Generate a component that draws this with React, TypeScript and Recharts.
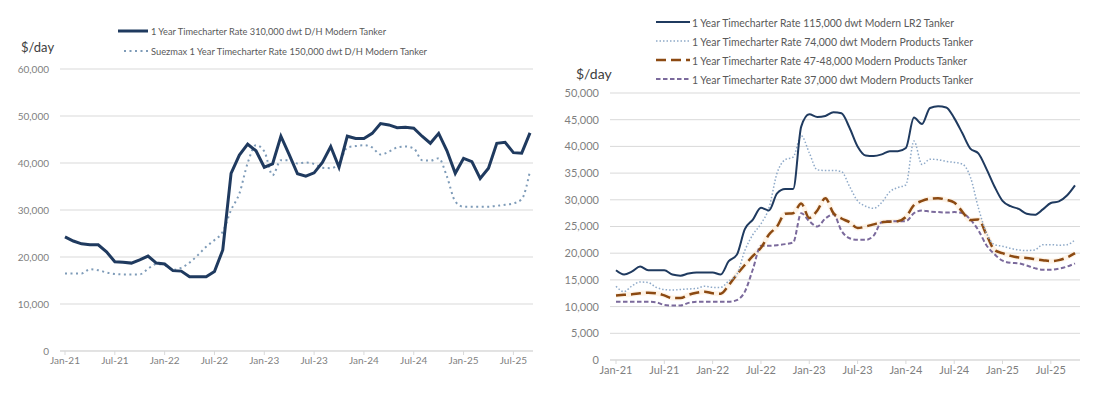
import { LineChart, Line, XAxis, YAxis, CartesianGrid } from 'recharts';

const FONT = 'Lato, "Liberation Sans", sans-serif';
const MONTHS = ['Jan', 'Feb', 'Mar', 'Apr', 'May', 'Jun', 'Jul', 'Aug', 'Sep', 'Oct', 'Nov', 'Dec'];
const monthLabels = (n: number) =>
  Array.from({ length: n }, (_, i) => `${MONTHS[i % 12]}-${21 + Math.floor(i / 12)}`);

// categories
const leftMonths = monthLabels(57); // Jan-21 .. Sep-25
const rightMonths = monthLabels(58); // Jan-21 .. Oct-25
const xTicks = ['Jan-21', 'Jul-21', 'Jan-22', 'Jul-22', 'Jan-23', 'Jul-23', 'Jan-24', 'Jul-24', 'Jan-25', 'Jul-25'];
const leftYTicks = [0, 10000, 20000, 30000, 40000, 50000, 60000];
const rightYTicks = [0, 5000, 10000, 15000, 20000, 25000, 30000, 35000, 40000, 45000, 50000];

// left chart series ($/day)
const vlcc310 = [
  24300, 23400, 22800, 22600, 22600, 21100, 19000, 18900, 18700, 19400,
  20200, 18700, 18500, 17100, 17000, 15800, 15800, 15800, 16900, 21500,
  37800, 41700, 44000, 42600, 39100, 39800, 45700, 41800, 37700, 37200,
  37900, 40100, 43500, 39100, 45700, 45200, 45200, 46300, 48400, 48100,
  47500, 47600, 47400, 45700, 44200, 46300, 42600, 37800, 41000, 40300,
  36700, 38900, 44200, 44400, 42200, 42100, 46400,
];
const suezmax150 = [
  16500, 16500, 16500, 17400, 17200, 16700, 16400, 16300, 16300, 16300,
  17500, 18500, 18300, 17300, 17700, 18800, 20400, 22200, 23600, 25400,
  30000, 33500, 40000, 43800, 42500, 37400, 40600, 40600, 39900, 40100,
  39800, 39000, 38900, 39900, 43300, 43600, 43800, 43300, 41800, 42400,
  43300, 43500, 43100, 40600, 40500, 41000, 37100, 31800, 30700, 30700,
  30700, 30700, 30900, 31100, 31400, 32300, 38300,
];

// right chart series ($/day)
const lr2_115 = [
  16800, 16000, 16600, 17500, 16800, 16800, 16800, 16000, 15800, 16200,
  16400, 16400, 16400, 16000, 18500, 19700, 24500, 26300, 28500, 28000,
  31200, 32000, 32000, 43700, 46000, 45500, 45700, 46400, 46200, 43500,
  40000, 38300, 38200, 38500, 39100, 39100, 39700, 45400, 44200, 47200,
  47500, 47300, 45300, 42500, 39600, 38700, 35800, 32500, 29800, 28800,
  28300, 27400, 27200, 28200, 29400, 29700, 30800, 32700,
];
const products74 = [
  13800, 12800, 13900, 14600, 14500, 13600, 13200, 13100, 13200, 13300,
  13400, 13800, 13600, 13600, 14800, 16000, 20500, 23500, 25500, 28500,
  35000, 37500, 38000, 42000, 38800, 35600, 35500, 35500, 35300, 32500,
  29800, 28800, 28400, 29500, 31500, 32300, 32800, 41000, 36600, 37600,
  37500, 37200, 37000, 36700, 34300, 28500, 23800, 21600, 21300, 20900,
  20600, 20500, 20600, 21600, 21600, 21500, 21600, 22500,
];
const products47 = [
  12100, 12200, 12300, 12500, 12600, 12500, 12100, 11600, 11600, 12200,
  12600, 12800, 12500, 12400, 14000, 16000, 17800, 19500, 21000, 23500,
  25000, 27400, 27500, 29300, 26600, 28000, 30300, 27500, 26500, 25800,
  24700, 25000, 25400, 25800, 25900, 26000, 26800, 29000, 29800, 30200,
  30300, 30000, 29500, 27800, 26200, 26300, 23500, 20600, 20000, 19500,
  19200, 19100, 18900, 18700, 18500, 18700, 19200, 20000,
];
const products37 = [
  10900, 10900, 10900, 10900, 10900, 10800, 10300, 10200, 10200, 10700,
  10900, 10900, 10900, 10900, 10900, 11200, 12800, 17000, 21400, 21400,
  21500, 21700, 22000, 27500, 26000, 25000, 26500, 27300, 24200, 22800,
  22500, 22500, 23300, 25800, 26000, 26000, 26000, 27500, 28000, 27800,
  27700, 27600, 27700, 27500, 26300, 24300, 21500, 19800, 18600, 18200,
  18100, 17700, 17200, 16900, 16900, 17100, 17500, 18100,
];

const leftLabels = [
  '1 Year Timecharter Rate 310,000 dwt D/H Modern Tanker',
  'Suezmax 1 Year Timecharter Rate 150,000 dwt D/H Modern Tanker',
];
const rightLabels = [
  '1 Year Timecharter Rate 115,000 dwt Modern LR2 Tanker',
  '1 Year Timecharter Rate 74,000 dwt Modern Products Tanker',
  '1 Year Timecharter Rate 47-48,000 Modern Products Tanker',
  '1 Year Timecharter Rate 37,000 dwt Modern Products Tanker',
];

const leftData = leftMonths.map((m, i) => ({ month: m, vlcc: vlcc310[i], suezmax: suezmax150[i] }));
const rightData = rightMonths.map((m, i) => ({
  month: m,
  lr2: lr2_115[i],
  p74: products74[i],
  p47: products47[i],
  p37: products37[i],
}));

const NAVY = '#1F3A5F';
const GRID = '#D9D9D9';
const fmt = (v: number) => v.toLocaleString('en-US');

const LegendLine = ({ y, x1, x2, color, width, dash, text, tx, len, fs }: any) => (
  <g>
    <line x1={x1} x2={x2} y1={y} y2={y} stroke={color} strokeWidth={width} strokeDasharray={dash} />
    <text
      x={tx}
      y={y}
      dominantBaseline="central"
      fontSize={fs}
      fill="#595959"
      fontFamily={FONT}
      textLength={len}
      lengthAdjust="spacingAndGlyphs"
    >
      {text}
    </text>
  </g>
);

const LeftChart = () => (
  <div style={{ position: 'absolute', left: 0, top: 0, width: 550, height: 394 }}>
    <LineChart width={550} height={394} data={leftData} margin={{ top: 69, right: 17, bottom: 18, left: 8 }}>
      <CartesianGrid vertical={false} stroke={GRID} />
      <XAxis
        dataKey="month"
        ticks={xTicks}
        interval={0}
        height={25}
        padding={{ left: 5, right: 3 }}
        axisLine={{ stroke: GRID }}
        tickLine={{ stroke: GRID }}
        tickSize={4}
        tick={{ fontSize: 10, fill: '#7F7F7F', fontFamily: FONT }}
      />
      <YAxis
        domain={[0, 60000]}
        ticks={leftYTicks}
        width={52}
        axisLine={false}
        tickLine={false}
        tickMargin={5}
        tickFormatter={fmt}
        tick={{ fontSize: 10, fill: '#7F7F7F', fontFamily: FONT }}
      />
      <Line dataKey="suezmax" type="monotone" stroke="#7E9BB8" strokeWidth={2} strokeDasharray="2 3.5" dot={false} isAnimationActive={false} />
      <Line dataKey="vlcc" type="linear" stroke={NAVY} strokeWidth={3} dot={false} isAnimationActive={false} />
    </LineChart>
    <svg width={550} height={394} style={{ position: 'absolute', left: 0, top: 0, pointerEvents: 'none' }}>
      <text x={21} y={47} dominantBaseline="central" fontSize={13} fill="#404040" fontFamily={FONT}>$/day</text>
      <LegendLine y={31} x1={118} x2={148} color={NAVY} width={3} text={leftLabels[0]} tx={151} len={235} fs={10} />
      <LegendLine y={51} x1={124} x2={148} color="#7E9BB8" width={2} dash="2 3.5" text={leftLabels[1]} tx={151} len={276} fs={10} />
    </svg>
  </div>
);

const RightChart = () => (
  <div style={{ position: 'absolute', left: 550, top: 0, width: 550, height: 394 }}>
    <LineChart width={550} height={394} data={rightData} margin={{ top: 93, right: 20, bottom: 12, left: 8 }}>
      <CartesianGrid vertical={false} stroke={GRID} />
      <XAxis
        dataKey="month"
        ticks={xTicks}
        interval={0}
        height={22}
        padding={{ left: 6, right: 5 }}
        axisLine={{ stroke: GRID }}
        tickLine={{ stroke: GRID }}
        tickSize={4}
        tick={{ fontSize: 11, fill: '#7F7F7F', fontFamily: FONT }}
      />
      <YAxis
        domain={[0, 50000]}
        ticks={rightYTicks}
        width={52}
        axisLine={false}
        tickLine={false}
        tickMargin={5}
        tickFormatter={fmt}
        tick={{ fontSize: 11, fill: '#7F7F7F', fontFamily: FONT }}
      />
      <Line dataKey="p47" type="monotone" stroke="#FCE6CC" strokeOpacity={0.45} strokeWidth={5} dot={false} isAnimationActive={false} />
      <Line dataKey="p37" type="monotone" stroke="#7B6A9C" strokeWidth={2} strokeDasharray="4.5 2.5" dot={false} isAnimationActive={false} />
      <Line dataKey="p47" type="monotone" stroke="#8C4A12" strokeWidth={2.5} strokeDasharray="10 5" dot={false} isAnimationActive={false} />
      <Line dataKey="p74" type="monotone" stroke="#8EA9C8" strokeWidth={1.5} strokeDasharray="1.5 2" dot={false} isAnimationActive={false} />
      <Line dataKey="lr2" type="monotone" stroke={NAVY} strokeWidth={2} dot={false} isAnimationActive={false} />
    </LineChart>
    <svg width={550} height={394} style={{ position: 'absolute', left: 0, top: 0, pointerEvents: 'none' }}>
      <text x={26} y={73} dominantBaseline="central" fontSize={14} fill="#404040" fontFamily={FONT}>$/day</text>
      <LegendLine y={22} x1={106} x2={140} color={NAVY} width={2} text={rightLabels[0]} tx={142} len={262} fs={11} />
      <LegendLine y={41} x1={106} x2={140} color="#8EA9C8" width={1.5} dash="1.5 2" text={rightLabels[1]} tx={142} len={281} fs={11} />
      <LegendLine y={60} x1={106} x2={140} color="#8C4A12" width={2.5} dash="10 5" text={rightLabels[2]} tx={142} len={275} fs={11} />
      <LegendLine y={79} x1={106} x2={140} color="#7B6A9C" width={2} dash="4.5 2.5" text={rightLabels[3]} tx={142} len={281} fs={11} />
    </svg>
  </div>
);

export default function App() {
  return (
    <div style={{ position: 'absolute', left: 0, top: 0, width: 1100, height: 394, background: '#fff', fontFamily: FONT }}>
      <LeftChart />
      <RightChart />
    </div>
  );
}
